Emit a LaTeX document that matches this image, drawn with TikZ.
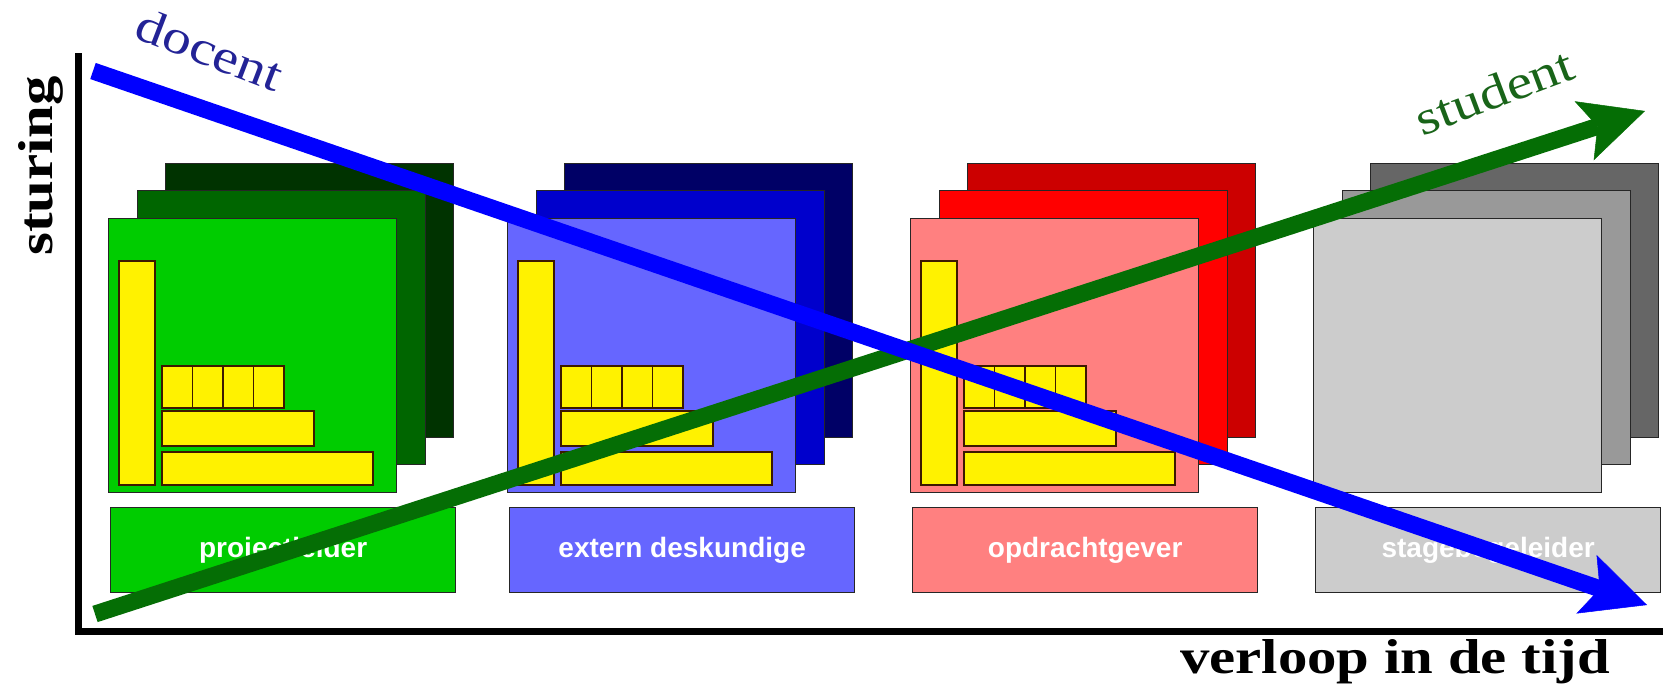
\documentclass[tikz,border=0pt]{standalone}
\usepackage{fontspec}
\setmainfont{Liberation Serif}
\setsansfont{Liberation Sans}
\usetikzlibrary{arrows.meta}

\definecolor{grnA}{RGB}{0,51,0}
\definecolor{grnB}{RGB}{0,102,0}
\definecolor{grnC}{RGB}{0,204,0}
\definecolor{bluA}{RGB}{0,0,102}
\definecolor{bluB}{RGB}{0,0,204}
\definecolor{bluC}{RGB}{102,102,255}
\definecolor{redA}{RGB}{204,0,0}
\definecolor{redB}{RGB}{255,0,0}
\definecolor{redC}{RGB}{255,128,128}
\definecolor{gryA}{RGB}{102,102,102}
\definecolor{gryB}{RGB}{153,153,153}
\definecolor{gryC}{RGB}{204,204,204}
\definecolor{docblue}{RGB}{35,35,150}
\definecolor{stugreen}{RGB}{25,100,25}
\definecolor{arrgreen}{RGB}{5,110,5}
\definecolor{barline}{RGB}{60,25,0}

\begin{document}
\begin{tikzpicture}[x=1pt,y=-1pt,
  sheet/.style={rectangle,draw=black!85,line width=1.3pt,inner sep=0pt,anchor=north west,minimum width=288pt,minimum height=274pt},
  tag/.style={rectangle,draw=black!85,line width=1.3pt,inner sep=0pt,anchor=north west,minimum width=345pt,minimum height=85pt,text=white,font=\sffamily\bfseries\fontsize{28}{32}\selectfont},
  bar/.style={draw=barline,fill=yellow,line width=1.6pt},
  axl/.style={font=\bfseries\fontsize{49}{56}\selectfont,xscale=1.2},
  who/.style={font=\fontsize{48}{56}\selectfont,xscale=1.2},
  arr/.style={line width=17pt,-{Stealth[length=64pt,width=62pt,inset=14pt,line width=0.5pt]}}]
  \fill[white] (0,0) rectangle (1670,694);
  \useasboundingbox (0,0) rectangle (1670,694);

  % axes
  \coordinate (top) at (78,53);
  \coordinate (org) at (78,631);
  \coordinate (rt) at (1663,631);
  \draw[line width=7pt] (top) -- (org) -- (rt);
  \node[rotate=90,axl,anchor=base] (yl) at (52,166) {sturing};
  \node[axl,anchor=base] (xl) at (1395,673) {verloop in de tijd};

  % sheets, back to front
  \node[sheet,fill=grnA] (bk1) at (165,163) {};
  \node[sheet,fill=grnB] (md1) at (137,190) {};
  \node[sheet,fill=grnC] (fr1) at (108,218) {};
  \node[sheet,fill=bluA] (bk2) at (564,163) {};
  \node[sheet,fill=bluB] (md2) at (536,190) {};
  \node[sheet,fill=bluC] (fr2) at (507,218) {};
  \node[sheet,fill=redA] (bk3) at (967,163) {};
  \node[sheet,fill=redB] (md3) at (939,190) {};
  \node[sheet,fill=redC] (fr3) at (910,218) {};
  \node[sheet,fill=gryA] (bk4) at (1370,163) {};
  \node[sheet,fill=gryB] (md4) at (1342,190) {};
  \node[sheet,fill=gryC] (fr4) at (1313,218) {};

  % yellow charts
  \foreach \L in {108,507,910} {
    \draw[bar] (\L+11,261) rectangle (\L+47,485);
    \foreach \i in {0,1,2,3}
      \draw[bar] (\L+54+30.5*\i,366) rectangle (\L+84.5+30.5*\i,408);
    \draw[bar] (\L+54,411) rectangle (\L+206,446);
    \draw[bar] (\L+54,452) rectangle (\L+265,485);
  }

  % labels
  \node[tag,fill=grnC] (lb1) at (110,507) {projectleider};
  \node[tag,fill=bluC] (lb2) at (509,507) {extern deskundige};
  \node[tag,fill=redC] (lb3) at (912,507) {opdrachtgever};
  \node[tag,fill=gryC] (lb4) at (1315,507) {stagebegeleider};

  % student and docent
  \coordinate (ss) at (95,614);
  \coordinate (se) at (1645,111);
  \coordinate (ds) at (93,71);
  \coordinate (de) at (1647,605);
  \draw[arr,arrgreen] (ss) -- (se);
  \draw[arr,blue] (ds) -- (de);
  \node[rotate=-21,who,anchor=base,text=docblue] (dl) at (204,65) {docent};
  \node[rotate=20.6,who,anchor=base,text=stugreen] (sl) at (1500,107) {student};
\end{tikzpicture}
\end{document}
